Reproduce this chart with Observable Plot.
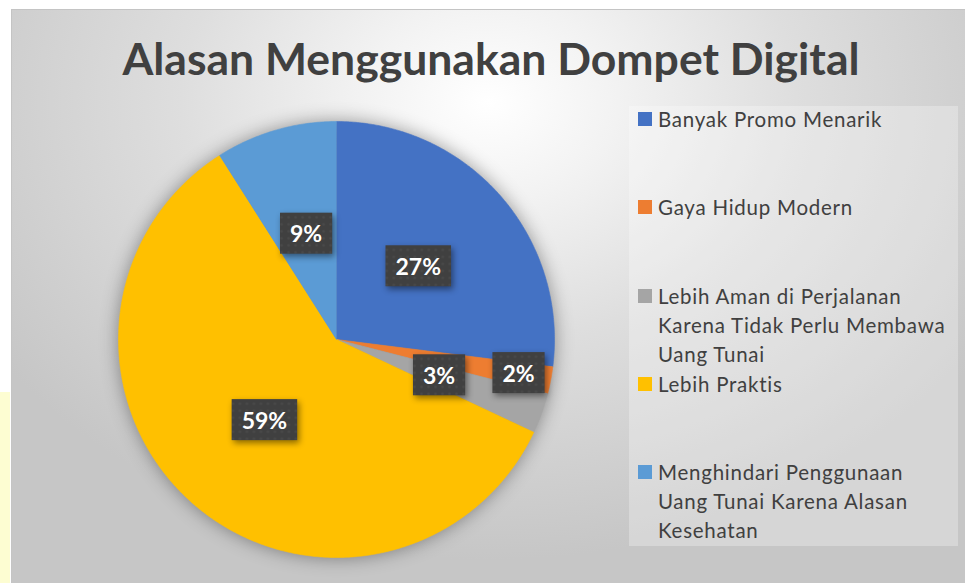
<!DOCTYPE html>
<html><head><meta charset="utf-8">
<script src="https://cdn.jsdelivr.net/npm/d3@7"></script>
<script src="https://cdn.jsdelivr.net/npm/@observablehq/plot@0.6"></script>
<style>
body{margin:0;background:#fff;}
#wrap{position:relative;width:965px;height:583px;overflow:hidden;font-family:Lato,"Open Sans",sans-serif;}
#bg{position:absolute;left:11px;top:9px;width:954px;height:574px;border-top:1px solid #c4c4c4;border-left:1px solid #c4c4c4;box-sizing:border-box;
 background:radial-gradient(ellipse 62% 80% at 50% 16%, #ffffff 0%, #f2f2f2 22%, #dedede 52%, #c6c6c6 100%);}
#strip{position:absolute;left:0;top:392px;width:10px;height:191px;background:#fdfdd2;}
#title{position:absolute;left:0;width:982px;text-align:center;top:35.5px;font-weight:700;font-size:44.5px;line-height:44.5px;color:#404040;white-space:nowrap;}
#legend{position:absolute;left:629px;top:106px;width:329px;height:440px;background:rgba(255,255,255,0.28);}
.item{position:absolute;left:0;width:329px;}
.sw{position:absolute;left:9px;width:14px;height:14px;}
.tx{position:absolute;left:29px;width:298px;font-size:20.5px;letter-spacing:0.75px;line-height:29px;color:#404040;}
#wrap svg g[aria-label="line"]{filter:drop-shadow(0 0 9px rgba(0,0,0,0.38));}
</style></head>
<body>
<div id="wrap"><div id="bg"></div><div id="strip"></div><div id="title"></div><div id="legend"></div></div>
<script>
const title = "Alasan Menggunakan Dompet Digital";
const categories = [
  "Banyak Promo Menarik",
  "Gaya Hidup Modern",
  "Lebih Aman di Perjalanan Karena Tidak Perlu Membawa Uang Tunai",
  "Lebih Praktis",
  "Menghindari Penggunaan Uang Tunai Karena Alasan Kesehatan"
];
const values = [27, 2, 3, 59, 9];
const palette = ["#4472C4", "#ED7D31", "#A5A5A5", "#FFC000", "#5B9BD5"];

const rows = categories.map((c, i) => ({c, v: values[i]}));
const arcs = d3.pie().sort(null).value(d => d.v)(rows);
const pts = arcs.flatMap(a => {
  const n = Math.max(2, Math.ceil((a.endAngle - a.startAngle) / (Math.PI / 360)));
  const p = [{c: a.data.c, x: 0, y: 0}];
  for (let k = 0; k <= n; k++) {
    const t = a.startAngle + (a.endAngle - a.startAngle) * k / n;
    p.push({c: a.data.c, x: Math.sin(t), y: Math.cos(t)});
  }
  return p;
});
const labels = arcs.map(a => {
  const m = (a.startAngle + a.endAngle) / 2;
  const r = a.data.v < 3 ? 0.85 : 0.5;
  return {x: r * Math.sin(m), y: r * Math.cos(m), t: a.data.v + "%"};
});

const chart = Plot.plot({
  width: 965, height: 583,
  marginTop: 0, marginRight: 0, marginBottom: 0, marginLeft: 0,
  style: "background:transparent;position:absolute;left:0;top:0;overflow:visible;max-width:none;",
  x: {domain: [-1, 1], range: [118, 554], axis: null},
  y: {domain: [-1, 1], range: [557, 121], axis: null},
  color: {domain: categories, range: palette},
  marks: [
    Plot.line(pts, {x: "x", y: "y", z: "c", fill: "c", stroke: "c", strokeWidth: 0.6, curve: "linear"}),
    Plot.text(labels, {x: "x", y: "y", text: "t", fill: "white", fontWeight: "bold", fontSize: 23, fontFamily: "Lato"})
  ]
});
const wrap = document.getElementById("wrap");
wrap.appendChild(chart);

// label boxes
const ns = "http://www.w3.org/2000/svg";
const defs = document.createElementNS(ns, "defs");
defs.innerHTML = '<pattern id="dots" width="7" height="7" patternUnits="userSpaceOnUse"><rect width="7" height="7" fill="#404040"/><circle cx="3.5" cy="3.5" r="1.3" fill="#4a4a4a"/></pattern>';
chart.insertBefore(defs, chart.firstChild);
chart.querySelectorAll('g[aria-label="text"] text').forEach(t => {
  const b = t.getBBox();
  const r = document.createElementNS(ns, "rect");
  r.setAttribute("x", b.x - 10);
  r.setAttribute("y", b.y + b.height / 2 - 20.5);
  r.setAttribute("width", b.width + 20);
  r.setAttribute("height", 41);
  r.setAttribute("fill", "url(#dots)");
  r.setAttribute("style", "filter:drop-shadow(2px 3px 3px rgba(0,0,0,0.45))");
  if (t.getAttribute("transform")) r.setAttribute("transform", t.getAttribute("transform"));
  t.parentNode.insertBefore(r, t);
});

document.getElementById("title").textContent = title;
const legend = document.getElementById("legend");
categories.forEach((c, i) => {
  const it = document.createElement("div");
  it.className = "item";
  it.style.top = (-1 + 88.25 * i) + "px";
  it.innerHTML = `<div class="sw" style="top:7px;background:${palette[i]}"></div><div class="tx">${c}</div>`;
  legend.appendChild(it);
});
</script>
</body></html>
